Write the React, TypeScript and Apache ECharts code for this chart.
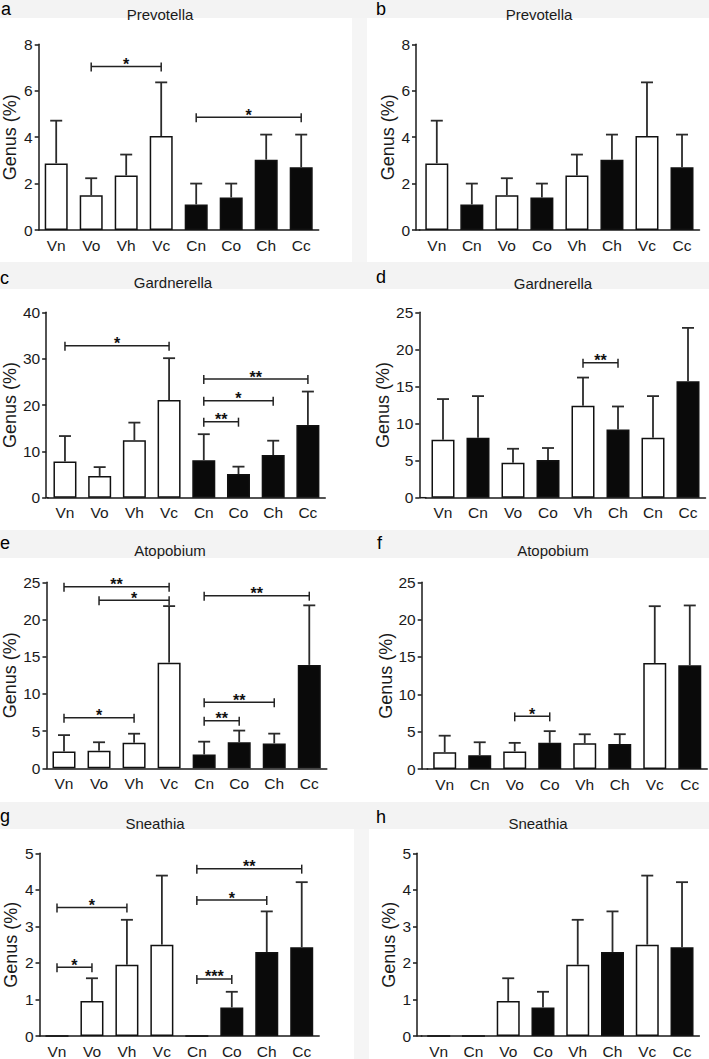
import React, { useEffect, useRef } from 'react';
import * as echarts from 'echarts';

// ---------- categories ----------
const groupedCats = ['Vn', 'Vo', 'Vh', 'Vc', 'Cn', 'Co', 'Ch', 'Cc'];
const groupedGroups = ['V', 'V', 'V', 'V', 'C', 'C', 'C', 'C'];
const pairedCats = ['Vn', 'Cn', 'Vo', 'Co', 'Vh', 'Ch', 'Vc', 'Cc'];
const pairedCatsD = ['Vn', 'Cn', 'Vo', 'Co', 'Vh', 'Ch', 'Cn', 'Cc'];
const pairedGroups = ['V', 'C', 'V', 'C', 'V', 'C', 'V', 'C'];

// ---------- y tick labels ----------
const prevotellaTicks = [0, 2, 4, 6, 8];
const gardnerellaTicksC = [0, 10, 20, 30, 40];
const ticks25 = [0, 5, 10, 15, 20, 25];
const sneathiaTicks = [0, 1, 2, 3, 4, 5];

// ---------- values (mean, upper end of error bar) ----------
const prevotellaMeanA = [2.87, 1.5, 2.35, 4.05, 1.1, 1.4, 3.03, 2.7];
const prevotellaUpperA = [4.71, 2.23, 3.25, 6.36, 2.0, 2.0, 4.11, 4.11];
const prevotellaMeanB = [2.87, 1.1, 1.5, 1.4, 2.35, 3.03, 4.05, 2.7];
const prevotellaUpperB = [4.71, 2.0, 2.23, 2.0, 3.25, 4.11, 6.36, 4.11];

const gardnerellaMeanC = [7.8, 4.7, 12.4, 21.1, 8.1, 5.1, 9.2, 15.7];
const gardnerellaUpperC = [13.3, 6.6, 16.2, 30.1, 13.7, 6.7, 12.3, 22.9];
const gardnerellaMeanD = [7.8, 8.1, 4.7, 5.1, 12.4, 9.2, 8.1, 15.7];
const gardnerellaUpperD = [13.3, 13.7, 6.6, 6.7, 16.2, 12.3, 13.7, 22.9];

const atopobiumMeanE = [2.25, 2.35, 3.45, 14.2, 1.85, 3.5, 3.35, 13.9];
const atopobiumUpperE = [4.46, 3.5, 4.65, 21.8, 3.58, 5.07, 4.66, 21.9];
const atopobiumMeanF = [2.25, 1.85, 2.35, 3.5, 3.45, 3.35, 14.2, 13.9];
const atopobiumUpperF = [4.46, 3.58, 3.5, 5.07, 4.65, 4.66, 21.8, 21.9];

const sneathiaMeanG = [0, 0.96, 1.95, 2.5, 0, 0.78, 2.3, 2.43];
const sneathiaUpperG = [0, 1.58, 3.18, 4.39, 0, 1.21, 3.41, 4.21];
const sneathiaMeanH = [0, 0, 0.96, 0.78, 1.95, 2.3, 2.5, 2.43];
const sneathiaUpperH = [0, 0, 1.58, 1.21, 3.18, 3.41, 4.39, 4.21];

// ---------- significance brackets: [fromIdx, toIdx, yValue, nStars] ----------
const sigA = [[1, 3, 7.04, 1], [4, 7, 4.86, 1]];
const sigB: number[][] = [];
const sigC = [[0, 3, 32.8, 1], [4, 7, 25.6, 2], [4, 6, 20.9, 1], [4, 5, 16.4, 2]];
const sigD = [[4, 5, 18.2, 2]];
const sigE = [[0, 3, 24.4, 2], [1, 3, 22.6, 1], [4, 7, 23.2, 2], [0, 2, 6.8, 1], [4, 6, 8.87, 2], [4, 5, 6.4, 2]];
const sigF = [[2, 3, 7.05, 1]];
const sigG = [[0, 1, 1.88, 1], [0, 2, 3.52, 1], [4, 5, 1.56, 3], [4, 6, 3.72, 1], [4, 7, 4.58, 2]];
const sigH: number[][] = [];

const titles = ['Prevotella', 'Prevotella', 'Gardnerella', 'Gardnerella', 'Atopobium', 'Atopobium', 'Sneathia', 'Sneathia'];
const letters = ['a', 'b', 'c', 'd', 'e', 'f', 'g', 'h'];

const panelData = [
  { cats: groupedCats, groups: groupedGroups, mean: prevotellaMeanA, upper: prevotellaUpperA, ticks: prevotellaTicks, sig: sigA },
  { cats: pairedCats, groups: pairedGroups, mean: prevotellaMeanB, upper: prevotellaUpperB, ticks: prevotellaTicks, sig: sigB },
  { cats: groupedCats, groups: groupedGroups, mean: gardnerellaMeanC, upper: gardnerellaUpperC, ticks: gardnerellaTicksC, sig: sigC },
  { cats: pairedCatsD, groups: pairedGroups, mean: gardnerellaMeanD, upper: gardnerellaUpperD, ticks: ticks25, sig: sigD },
  { cats: groupedCats, groups: groupedGroups, mean: atopobiumMeanE, upper: atopobiumUpperE, ticks: ticks25, sig: sigE },
  { cats: pairedCats, groups: pairedGroups, mean: atopobiumMeanF, upper: atopobiumUpperF, ticks: ticks25, sig: sigF },
  { cats: groupedCats, groups: groupedGroups, mean: sneathiaMeanG, upper: sneathiaUpperG, ticks: sneathiaTicks, sig: sigG },
  { cats: pairedCats, groups: pairedGroups, mean: sneathiaMeanH, upper: sneathiaUpperH, ticks: sneathiaTicks, sig: sigH },
];

// ---------- layout (pixels) ----------
const layout = [
  { firstC: 56.2, catW: 35.0, top: 44.3, zero: 230, axisX: 39, nameGap: 19.5, titleX: 160, titleY: 14, letterX: 1, letterY: 9 },
  { firstC: 436.8, catW: 35.03, top: 44.3, zero: 230, axisX: 416, nameGap: 14, titleX: 539, titleY: 14, letterX: 376, letterY: 9 },
  { firstC: 62.3, catW: 35.06, top: 312.3, zero: 497.7, axisX: 43.3, nameGap: 24, titleX: 173, titleY: 282, letterX: 0, letterY: 278 },
  { firstC: 443, catW: 35.0, top: 312.3, zero: 497.7, axisX: 419.3, nameGap: 19, titleX: 553, titleY: 283, letterX: 376, letterY: 277 },
  { firstC: 64, catW: 35.04, top: 582.3, zero: 768.3, axisX: 46.7, nameGap: 27, titleX: 170, titleY: 550, letterX: 0, letterY: 543 },
  { firstC: 444.7, catW: 35.01, top: 582.3, zero: 769, axisX: 421.7, nameGap: 20, titleX: 553, titleY: 550, letterX: 377, letterY: 543 },
  { firstC: 57, catW: 34.96, top: 853.3, zero: 1038.3, axisX: 40, nameGap: 20, titleX: 155, titleY: 823, letterX: 0, letterY: 816 },
  { firstC: 438.7, catW: 34.76, top: 853.3, zero: 1038.7, axisX: 417, nameGap: 15, titleX: 538, titleY: 823, letterX: 376, letterY: 817 },
];

const bands = [[0, 18], [262, 289], [530, 558], [802, 829]];
const strips = [[352, 18, 15, 244], [354, 829, 15, 230]];

const FONT = '"Liberation Sans", Arial, Helvetica, sans-serif';
const INK = '#1a1a1a';

function buildOption() {
  const grids: any[] = [];
  const xAxes: any[] = [];
  const yAxes: any[] = [];
  const series: any[] = [];
  const graphic: any[] = [];

  bands.forEach(([y0, y1]) => {
    graphic.push({ type: 'rect', z: -10, silent: true, shape: { x: 0, y: y0, width: 709, height: y1 - y0 }, style: { fill: '#f3f3f3' } });
  });
  strips.forEach(([x, y, w, h]) => {
    graphic.push({ type: 'rect', z: -10, silent: true, shape: { x, y, width: w, height: h }, style: { fill: '#f5f5f5' } });
  });

  panelData.forEach((p, i) => {
    const L = layout[i];
    const left = L.firstC - L.catW / 2;
    const offset = Math.max(0, left - L.axisX);
    const tmax = p.ticks[p.ticks.length - 1];
    const interval = p.ticks[1] - p.ticks[0];

    grids.push({ left, top: L.top, width: L.catW * 8, height: L.zero - L.top, containLabel: false });
    xAxes.push({
      gridIndex: i,
      type: 'category',
      data: p.cats,
      axisLine: { lineStyle: { color: INK, width: 1.5 } },
      axisTick: { alignWithLabel: true, length: 4, lineStyle: { color: INK, width: 1.5 } },
      axisLabel: { interval: 0, fontSize: 15.5, color: INK, margin: 7, fontFamily: FONT },
    });
    yAxes.push({
      gridIndex: i,
      type: 'value',
      min: 0,
      max: tmax,
      interval,
      offset,
      name: 'Genus (%)',
      nameLocation: 'middle',
      nameGap: L.nameGap,
      nameTextStyle: { fontSize: 18, color: INK, fontFamily: FONT },
      axisLine: { show: true, lineStyle: { color: INK, width: 1.5 } },
      axisTick: { show: true, length: 4, lineStyle: { color: INK, width: 1.5 } },
      splitLine: { show: false },
      axisLabel: { fontSize: 15.5, color: INK, margin: 6, fontFamily: FONT },
    });

    series.push({
      type: 'bar',
      xAxisIndex: i,
      yAxisIndex: i,
      barWidth: 23,
      silent: true,
      data: p.mean.map((v, k) => ({
        value: v,
        itemStyle: {
          color: p.groups[k] === 'C' ? '#0a0a0a' : '#ffffff',
          borderColor: '#111111',
          borderWidth: 1.5,
        },
      })),
      z: 2,
    });

    series.push({
      type: 'custom',
      xAxisIndex: i,
      yAxisIndex: i,
      silent: true,
      encode: { x: 0, y: [1, 2] },
      data: p.mean.map((v, k) => [k, v, p.upper[k]]),
      renderItem: (params: any, api: any) => {
        const k = api.value(0);
        const m = api.value(1);
        const u = api.value(2);
        if (!(u > m)) return null;
        const p0 = api.coord([k, m]);
        const p1 = api.coord([k, u]);
        const st = { stroke: '#2b2b2b', lineWidth: 1.8 };
        return {
          type: 'group',
          children: [
            { type: 'line', shape: { x1: p0[0], y1: p0[1], x2: p1[0], y2: p1[1] }, style: st },
            { type: 'line', shape: { x1: p1[0] - 6, y1: p1[1], x2: p1[0] + 6, y2: p1[1] }, style: st },
          ],
        };
      },
      z: 3,
    });

    if (p.sig.length) {
      series.push({
        type: 'custom',
        xAxisIndex: i,
        yAxisIndex: i,
        silent: true,
        encode: { x: 0, y: 2 },
        data: p.sig.map((s) => [s[0], s[1], s[2], s[3]]),
        renderItem: (params: any, api: any) => {
          const a = api.coord([api.value(0), api.value(2)]);
          const b = api.coord([api.value(1), api.value(2)]);
          const n = api.value(3);
          const st = { stroke: '#222', lineWidth: 1.5 };
          return {
            type: 'group',
            children: [
              { type: 'line', shape: { x1: a[0], y1: a[1], x2: b[0], y2: b[1] }, style: st },
              { type: 'line', shape: { x1: a[0], y1: a[1] - 4, x2: a[0], y2: a[1] + 5 }, style: st },
              { type: 'line', shape: { x1: b[0], y1: b[1] - 4, x2: b[0], y2: b[1] + 5 }, style: st },
              {
                type: 'text',
                style: {
                  text: '*'.repeat(n),
                  x: (a[0] + b[0]) / 2,
                  y: a[1] - 2,
                  align: 'center',
                  verticalAlign: 'middle',
                  textAlign: 'center',
                  textVerticalAlign: 'middle',
                  fill: '#111',
                  font: 'bold 16px ' + FONT,
                },
              },
            ],
          };
        },
        z: 4,
      });
    }

    if (offset > 0.5) {
      series.push({
        type: 'custom',
        xAxisIndex: i,
        yAxisIndex: i,
        silent: true,
        data: [[0, 0]],
        renderItem: (params: any, api: any) => {
          const cs = params.coordSys;
          const zy = api.coord([0, 0])[1];
          return {
            type: 'line',
            shape: { x1: cs.x - offset, y1: zy, x2: cs.x + 1, y2: zy },
            style: { stroke: INK, lineWidth: 1.5 },
          };
        },
        z: 1,
      });
    }

    graphic.push({
      type: 'text',
      silent: true,
      x: L.titleX,
      y: L.titleY,
      style: {
        text: titles[i],
        align: 'center',
        verticalAlign: 'middle',
        textAlign: 'center',
        textVerticalAlign: 'middle',
        fill: INK,
        font: '15px ' + FONT,
      },
    });
    graphic.push({
      type: 'text',
      silent: true,
      x: L.letterX,
      y: L.letterY,
      style: {
        text: letters[i],
        align: 'left',
        verticalAlign: 'middle',
        textAlign: 'left',
        textVerticalAlign: 'middle',
        fill: '#000',
        font: '18px ' + FONT,
      },
    });
  });

  return {
    animation: false,
    backgroundColor: '#ffffff',
    grid: grids,
    xAxis: xAxes,
    yAxis: yAxes,
    series,
    graphic,
  };
}

export default function App() {
  const ref = useRef<HTMLDivElement>(null);
  useEffect(() => {
    document.body.style.margin = '0';
    if (!ref.current) return;
    const chart = echarts.init(ref.current, null, { renderer: 'svg', width: 709, height: 1059 });
    chart.setOption(buildOption() as any);
    return () => {
      chart.dispose();
    };
  }, []);
  return <div ref={ref} style={{ position: 'absolute', left: 0, top: 0, width: 709, height: 1059 }} />;
}
